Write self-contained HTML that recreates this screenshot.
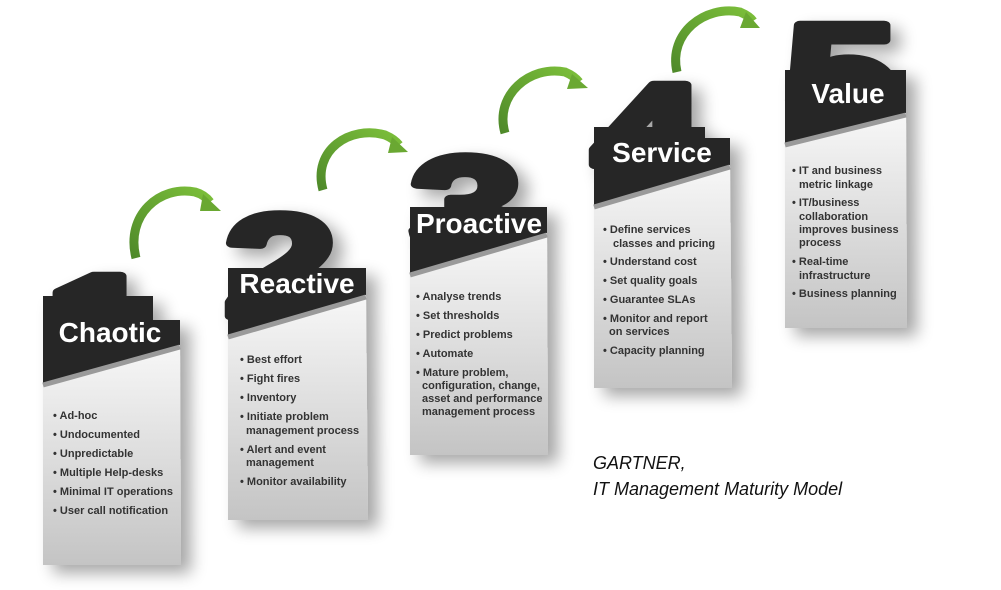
<!DOCTYPE html>
<html><head><meta charset="utf-8"><style>
html,body{margin:0;padding:0;background:#fff;width:1001px;height:590px;overflow:hidden}
svg text{font-family:"Liberation Sans",sans-serif}
.it{font-size:11px;font-weight:bold;fill:#333}
.ti{font-size:28px;font-weight:bold;fill:#fff;text-anchor:middle}
.dg{font-size:145px;font-weight:bold;fill:#262626;stroke:#262626;stroke-width:9;stroke-linejoin:round}
</style></head><body>
<svg width="1001" height="590" viewBox="0 0 1001 590" xmlns="http://www.w3.org/2000/svg">
<defs>
<linearGradient id="lg" x1="0" y1="0" x2="0" y2="1"><stop offset="0" stop-color="#f7f7f7"/><stop offset="1" stop-color="#c4c4c4"/></linearGradient>
<linearGradient id="gr" x1="0" y1="1" x2="1" y2="0"><stop offset="0" stop-color="#4f8a2a"/><stop offset="1" stop-color="#7cbf3a"/></linearGradient>
<filter id="sh" x="-20%" y="-10%" width="160%" height="140%"><feGaussianBlur in="SourceAlpha" stdDeviation="8"/><feOffset dx="10" dy="8"/><feComponentTransfer><feFuncA type="linear" slope="0.35"/></feComponentTransfer><feMerge><feMergeNode/><feMergeNode in="SourceGraphic"/></feMerge></filter>
</defs>

<g fill="none" stroke="url(#gr)" stroke-width="9" stroke-linecap="butt">
<path d="M136 258 C125 215 160 185 195 192 C202 194 207 198 210 202"/>
<path d="M323 190 C312 150 350 125 385 135 C392 138 396 141 399 145"/>
<path d="M505 133 C494 95 530 65 565 72 C572 75 576 78 579 82"/>
<path d="M677 72 C668 33 705 5 740 12 C747 15 751 18 753 21"/>
</g>
<g fill="#6aa832">
<polygon points="203,194 221,211 200,211"/>
<polygon points="392,137 408,152 388,153"/>
<polygon points="572,74 588,88 567,89"/>
<polygon points="746,12 760,28 740,28"/>
</g>

<g filter="url(#sh)">
<text class="dg" transform="translate(45,376) scale(1.4,1)">1</text>
<polygon points="43,296 153,296 153,320 180,320 180,345 43,383" fill="#262626"/>
<polygon points="43,383 180,345 181,565 43,565" fill="url(#lg)"/>
</g>
<line x1="43" y1="385" x2="180" y2="347" stroke="#9a9a9a" stroke-width="5"/>
<text class="ti" x="110" y="342">Chaotic</text>
<text class="it"><tspan x="53" y="419">• Ad-hoc</tspan><tspan x="53" y="438">• Undocumented</tspan><tspan x="53" y="457">• Unpredictable</tspan><tspan x="53" y="476">• Multiple Help-desks</tspan><tspan x="53" y="495">• Minimal IT operations</tspan><tspan x="53" y="514">• User call notification</tspan></text>

<g filter="url(#sh)">
<text class="dg" transform="translate(224,316) scale(1.4,1)">2</text>
<polygon points="228,268 366,268 366,295 228,335" fill="#262626"/>
<polygon points="228,335 366,295 368,520 228,520" fill="url(#lg)"/>
</g>
<line x1="228" y1="337" x2="366" y2="297" stroke="#9a9a9a" stroke-width="5"/>
<text class="ti" x="297" y="293">Reactive</text>
<text class="it"><tspan x="240" y="363">• Best effort</tspan><tspan x="240" y="382">• Fight fires</tspan><tspan x="240" y="401">• Inventory</tspan><tspan x="240" y="420">• Initiate problem</tspan><tspan x="246" y="434">management process</tspan><tspan x="240" y="453">• Alert and event</tspan><tspan x="246" y="466">management</tspan><tspan x="240" y="485">• Monitor availability</tspan></text>

<g filter="url(#sh)">
<text class="dg" transform="translate(410,258) scale(1.4,1)">3</text>
<polygon points="410,207 547,207 547,233 410,273" fill="#262626"/>
<polygon points="410,273 547,233 548,455 410,455" fill="url(#lg)"/>
</g>
<line x1="410" y1="275" x2="547" y2="235" stroke="#9a9a9a" stroke-width="5"/>
<text class="ti" x="479" y="233">Proactive</text>
<text class="it"><tspan x="416" y="300">• Analyse trends</tspan><tspan x="416" y="319">• Set thresholds</tspan><tspan x="416" y="338">• Predict problems</tspan><tspan x="416" y="357">• Automate</tspan><tspan x="416" y="376">• Mature problem,</tspan><tspan x="422" y="389">configuration, change,</tspan><tspan x="422" y="402">asset and performance</tspan><tspan x="422" y="415">management process</tspan></text>

<g filter="url(#sh)">
<text class="dg" transform="translate(592,185) scale(1.4,1)">4</text>
<polygon points="594,127 705,127 705,138 730,138 730,165 594,205" fill="#262626"/>
<polygon points="594,205 730,165 732,388 594,388" fill="url(#lg)"/>
</g>
<line x1="594" y1="207" x2="730" y2="167" stroke="#9a9a9a" stroke-width="5"/>
<text class="ti" x="662" y="162">Service</text>
<text class="it"><tspan x="603" y="233">• Define services</tspan><tspan x="613" y="247">classes and pricing</tspan><tspan x="603" y="265">• Understand cost</tspan><tspan x="603" y="284">• Set quality goals</tspan><tspan x="603" y="303">• Guarantee SLAs</tspan><tspan x="603" y="322">• Monitor and report</tspan><tspan x="609" y="335">on services</tspan><tspan x="603" y="354">• Capacity planning</tspan></text>

<g filter="url(#sh)">
<text class="dg" transform="translate(785,125) scale(1.4,1)">5</text>
<polygon points="785,70 906,70 906,113 785,143" fill="#262626"/>
<polygon points="785,143 906,113 907,328 785,328" fill="url(#lg)"/>
</g>
<line x1="785" y1="145" x2="906" y2="115" stroke="#9a9a9a" stroke-width="5"/>
<text class="ti" x="848" y="103">Value</text>
<text class="it"><tspan x="792" y="174">• IT and business</tspan><tspan x="799" y="188">metric linkage</tspan><tspan x="792" y="206">• IT/business</tspan><tspan x="799" y="220">collaboration</tspan><tspan x="799" y="233">improves business</tspan><tspan x="799" y="246">process</tspan><tspan x="792" y="265">• Real-time</tspan><tspan x="799" y="279">infrastructure</tspan><tspan x="792" y="297">• Business planning</tspan></text>

<text x="593" y="469" font-size="18" font-style="italic" fill="#111">GARTNER,</text>
<text x="593" y="495" font-size="18" font-style="italic" fill="#111">IT Management Maturity Model</text>
</svg>
</body></html>
